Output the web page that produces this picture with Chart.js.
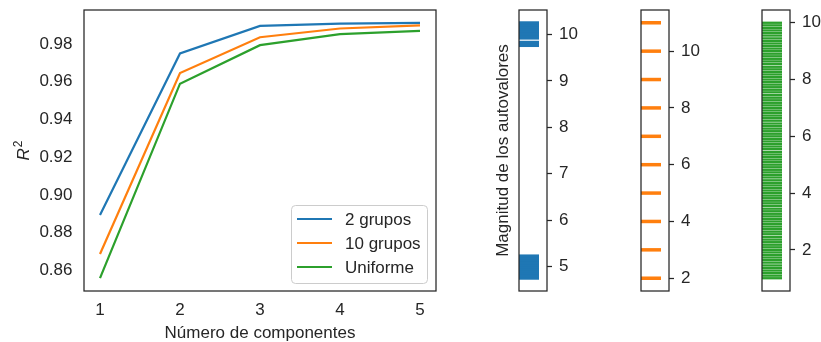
<!DOCTYPE html>
<html>
<head>
<meta charset="utf-8">
<script src="https://cdn.jsdelivr.net/npm/chart.js@4/dist/chart.umd.min.js"></script>
<style>
  html, body { margin: 0; padding: 0; background: #ffffff; }
  body { width: 821px; height: 342px; position: relative; overflow: hidden; }
  canvas { position: absolute; top: 0; }
</style>
</head>
<body>
<canvas id="r2" width="460" height="342" style="left:0px"></canvas>
<canvas id="ev1" width="110" height="342" style="left:480px"></canvas>
<canvas id="ev2" width="110" height="342" style="left:600px"></canvas>
<canvas id="ev3" width="101" height="342" style="left:720px"></canvas>
<script>
// ---- R^2 por número de componentes ----
const componentes = [1, 2, 3, 4, 5];
const r2DosGrupos  = [0.8894, 0.9749, 0.9895, 0.9907, 0.9911];
const r2DiezGrupos = [0.8688, 0.9645, 0.9835, 0.9881, 0.9898];
const r2Uniforme   = [0.8560, 0.9589, 0.9793, 0.9851, 0.9869];
const nombresSeries = ['2 grupos', '10 grupos', 'Uniforme'];
const r2Ticks = [0.86, 0.88, 0.90, 0.92, 0.94, 0.96, 0.98];
const componentesTicks = [1, 2, 3, 4, 5];

// ---- Autovalores de cada caso ----
const autovaloresDosGrupos = [
  4.75, 4.79, 4.83, 4.87, 4.91, 4.95, 4.99, 5.03, 5.07, 5.11, 5.15, 5.19, 5.23,
  9.76, 9.80, 9.83, 9.92, 9.96, 10.00, 10.04, 10.08, 10.12, 10.16, 10.20, 10.25
];
const autovaloresDiezGrupos = [2, 3, 4, 5, 6, 7, 8, 9, 10, 11];
const autovaloresUniforme = [
  1.00, 1.09, 1.18, 1.27, 1.36, 1.45, 1.55, 1.64, 1.73, 1.82, 1.91,
  2.00, 2.09, 2.18, 2.27, 2.36, 2.45, 2.55, 2.64, 2.73, 2.82, 2.91,
  3.00, 3.09, 3.18, 3.27, 3.36, 3.45, 3.55, 3.64, 3.73, 3.82, 3.91,
  4.00, 4.09, 4.18, 4.27, 4.36, 4.45, 4.55, 4.64, 4.73, 4.82, 4.91,
  5.00, 5.09, 5.18, 5.27, 5.36, 5.45, 5.55, 5.64, 5.73, 5.82, 5.91,
  6.00, 6.09, 6.18, 6.27, 6.36, 6.45, 6.55, 6.64, 6.73, 6.82, 6.91,
  7.00, 7.09, 7.18, 7.27, 7.36, 7.45, 7.55, 7.64, 7.73, 7.82, 7.91,
  8.00, 8.09, 8.18, 8.27, 8.36, 8.45, 8.55, 8.64, 8.73, 8.82, 8.91,
  9.00, 9.09, 9.18, 9.27, 9.36, 9.45, 9.55, 9.64, 9.73, 9.82, 9.91,
  10.00
];
const ticksDosGrupos  = [5, 6, 7, 8, 9, 10];
const ticksDiezGrupos = [2, 4, 6, 8, 10];
const ticksUniforme   = [2, 4, 6, 8, 10];
const tituloAutovalores = 'Magnitud de los autovalores';

// ---- Estilo ----
const INK = '#262626';
const AZUL = '#1f77b4', NARANJA = '#ff7f0e', VERDE = '#2ca02c';
const FAMILY = "'Liberation Sans', Arial, sans-serif";
const FSIZE = 17;
Chart.defaults.font.family = FAMILY;
Chart.defaults.font.size = FSIZE;
Chart.defaults.color = INK;

// Fija el tamaño de un eje y anula el relleno extra que pide para sus etiquetas
function fijarEje(prop, valor) {
  return s => {
    s[prop] = valor;
    s.paddingTop = 0; s.paddingBottom = 0; s.paddingLeft = 0; s.paddingRight = 0;
  };
}

// Marco completo alrededor del área de datos
const marco = {
  id: 'marco',
  afterDatasetsDraw(chart) {
    const a = chart.chartArea, ctx = chart.ctx;
    ctx.save();
    ctx.strokeStyle = INK;
    ctx.lineWidth = 1.25;
    ctx.strokeRect(a.left, a.top, a.right - a.left, a.bottom - a.top);
    ctx.restore();
  }
};

// Leyenda enmarcada en la esquina inferior derecha
const leyenda = {
  id: 'leyenda',
  afterDraw(chart) {
    const a = chart.chartArea, ctx = chart.ctx;
    const w = 136, h = 78;
    const x0 = a.right - 9 - w, y0 = a.bottom - 8 - h;
    ctx.save();
    ctx.fillStyle = 'rgba(255,255,255,0.8)';
    ctx.strokeStyle = '#cccccc';
    ctx.lineWidth = 1;
    ctx.beginPath();
    ctx.roundRect(x0 + 0.5, y0 + 0.5, w, h, 4);
    ctx.fill();
    ctx.stroke();
    ctx.font = FSIZE + 'px ' + FAMILY;
    ctx.textBaseline = 'middle';
    ctx.fillStyle = INK;
    chart.data.datasets.forEach((ds, i) => {
      const y = y0 + 14 + i * 24;
      ctx.strokeStyle = ds.borderColor;
      ctx.lineWidth = ds.borderWidth;
      ctx.beginPath();
      ctx.moveTo(x0 + 6, y);
      ctx.lineTo(x0 + 41, y);
      ctx.stroke();
      ctx.fillText(ds.label, x0 + 54, y + 1);
    });
    ctx.restore();
  }
};

// Título del eje y: R cursiva con superíndice 2
const tituloR2 = {
  id: 'tituloR2',
  afterDraw(chart) {
    const a = chart.chartArea, ctx = chart.ctx;
    ctx.save();
    const fR = 'italic ' + FSIZE + 'px ' + FAMILY;
    const f2 = '12px ' + FAMILY;
    ctx.font = fR; const wR = ctx.measureText('R').width;
    ctx.font = f2; const w2 = ctx.measureText('2').width;
    const cy = (a.top + a.bottom) / 2;
    ctx.translate(28.5, cy + (wR + w2 + 1) / 2);
    ctx.rotate(-Math.PI / 2);
    ctx.fillStyle = INK;
    ctx.textBaseline = 'alphabetic';
    ctx.font = fR; ctx.fillText('R', 0, 0);
    ctx.font = f2; ctx.fillText('2', wR + 1, -7);
    ctx.restore();
  }
};

const serie = (vals, label, color) => ({
  label: label,
  data: componentes.map((c, i) => ({ x: c, y: vals[i] })),
  borderColor: color,
  backgroundColor: color,
  borderWidth: 2.2,
  pointRadius: 0,
  tension: 0,
  fill: false
});

new Chart(document.getElementById('r2'), {
  type: 'line',
  data: {
    datasets: [
      serie(r2DosGrupos, nombresSeries[0], AZUL),
      serie(r2DiezGrupos, nombresSeries[1], NARANJA),
      serie(r2Uniforme, nombresSeries[2], VERDE)
    ]
  },
  options: {
    responsive: false,
    animation: false,
    devicePixelRatio: 1,
    layout: { autoPadding: false, padding: { top: 10, right: 24, left: 0, bottom: 0 } },
    plugins: { legend: { display: false }, tooltip: { enabled: false } },
    scales: {
      x: {
        type: 'linear', min: 0.8, max: 5.2,
        afterBuildTicks: s => { s.ticks = componentesTicks.map(v => ({ value: v })); },
        afterFit: fijarEje('height', 51),
        grid: { display: false, drawTicks: false },
        border: { display: false },
        ticks: { padding: 9, callback: v => String(v) },
        title: { display: true, text: 'Número de componentes', padding: { top: 0, bottom: -1.5 } }
      },
      y: {
        type: 'linear', min: 0.8492, max: 0.9979,
        afterBuildTicks: s => { s.ticks = r2Ticks.map(v => ({ value: v })); },
        afterFit: fijarEje('width', 84),
        grid: { display: false, drawTicks: false },
        border: { display: false },
        ticks: { padding: 11.5, callback: v => v.toFixed(2) }
      }
    }
  },
  plugins: [marco, leyenda, tituloR2]
});

// Gráfico de eventos: una raya horizontal por autovalor
function graficoEventos(id, valores, color, grosor, ticks, yMin, yMax, cfg) {
  const scales = {
    x: { type: 'linear', min: 0, max: 1.4, display: false },
    y: {
      type: 'linear', position: 'right', min: yMin, max: yMax,
      afterBuildTicks: s => { s.ticks = ticks.map(v => ({ value: v })); },
      afterFit: fijarEje('width', cfg.anchoDerecho),
      grid: { display: true, drawOnChartArea: false, drawTicks: true, tickLength: 5, tickWidth: 1.25, tickColor: INK },
      border: { display: false },
      ticks: { padding: 7, callback: v => String(v) }
    }
  };
  if (cfg.titulo) {
    scales.yt = {
      type: 'linear', position: 'left', display: true,
      afterFit: fijarEje('width', cfg.anchoIzquierdo),
      grid: { display: false, drawTicks: false },
      border: { display: false },
      ticks: { display: false },
      title: { display: true, text: cfg.titulo, padding: { top: 13, bottom: 0 } }
    };
  }
  return new Chart(document.getElementById(id), {
    type: 'scatter',
    data: {
      datasets: [{
        data: valores.map(v => ({ x: 0.5, y: v })),
        pointStyle: 'line',
        pointRadius: 10,
        pointHoverRadius: 10,
        pointBorderWidth: grosor,
        pointHoverBorderWidth: grosor,
        borderColor: color,
        backgroundColor: color,
        clip: false
      }]
    },
    options: {
      responsive: false,
      animation: false,
      devicePixelRatio: 1,
      layout: {
        autoPadding: false,
        padding: { top: 10, bottom: 51, left: cfg.titulo ? 0 : cfg.anchoIzquierdo, right: 0 }
      },
      plugins: { legend: { display: false }, tooltip: { enabled: false } },
      scales: scales
    },
    plugins: [marco]
  });
}

graficoEventos('ev1', autovaloresDosGrupos, AZUL, 3, ticksDosGrupos, 4.475, 10.525,
  { anchoIzquierdo: 39, anchoDerecho: 43, titulo: tituloAutovalores });
graficoEventos('ev2', autovaloresDiezGrupos, NARANJA, 3.5, ticksDiezGrupos, 1.55, 11.45,
  { anchoIzquierdo: 41, anchoDerecho: 41 });
graficoEventos('ev3', autovaloresUniforme, VERDE, 2.3, ticksUniforme, 0.55, 10.45,
  { anchoIzquierdo: 42, anchoDerecho: 31 });
</script>
</body>
</html>
